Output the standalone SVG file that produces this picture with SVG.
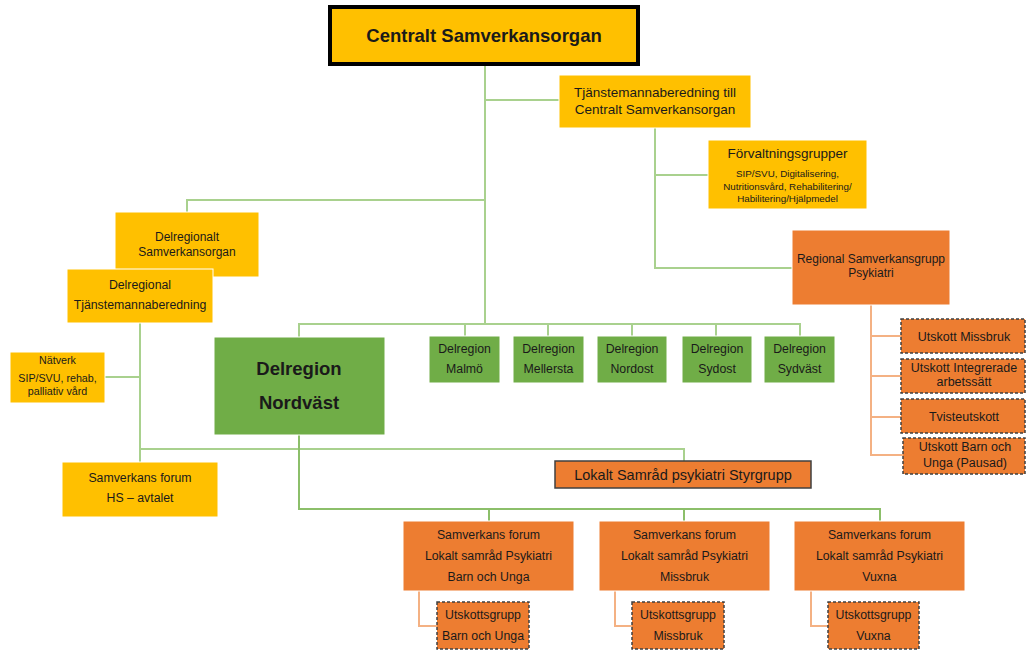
<svg xmlns="http://www.w3.org/2000/svg" width="1026" height="651" viewBox="0 0 1026 651">
<style>
text{font-family:"Liberation Sans",Arial,sans-serif;fill:#1a1a1a;text-anchor:middle}
.y{fill:#FFC000;stroke:#fff;stroke-width:1}
.o{fill:#ED7D31;stroke:#fff;stroke-width:1}
.g{fill:#70AD47;stroke:#fff;stroke-width:1}
.d{fill:#ED7D31;stroke:#404040;stroke-width:1.5;stroke-dasharray:3 2}
.lg{fill:none;stroke:#A9D18E;stroke-width:2}
.mg{fill:none;stroke:#8CBF6A;stroke-width:2}
.lo{fill:none;stroke:#F4B183;stroke-width:2}
</style>
<rect width="1026" height="651" fill="#fff"/>
<g id="connectors">
<polyline class="lg" points="485,66 485,324"/>
<polyline class="lg" points="485,100 559,100"/>
<polyline class="lg" points="655,128 655,268 792,268"/>
<polyline class="lg" points="655,175 708,175"/>
<polyline class="lg" points="485,200 187,200 187,212"/>
<polyline class="lg" points="299,337 299,324 800,324 800,336"/>
<polyline class="lg" points="465,324 465,336"/>
<polyline class="lg" points="548,324 548,336"/>
<polyline class="lg" points="632,324 632,336"/>
<polyline class="lg" points="716,324 716,336"/>
<polyline class="lg" points="140,323 140,462"/>
<polyline class="lg" points="105,377 140,377"/>
<polyline class="lg" points="140,449 684,449 684,461"/>
<polyline class="mg" points="299,435 299,509 880,509 880,521"/>
<polyline class="mg" points="489,509 489,521"/>
<polyline class="mg" points="684,509 684,521"/>
<polyline class="lo" points="871,305 871,455 903,455"/>
<polyline class="lo" points="871,336 901,336"/>
<polyline class="lo" points="871,376 901,376"/>
<polyline class="lo" points="871,417 901,417"/>
<polyline class="lo" points="419,591 419,626 437,626"/>
<polyline class="lo" points="615,591 615,626 632,626"/>
<polyline class="lo" points="811,591 811,626 828,626"/>
</g>
<g id="central">
<rect x="330" y="7" width="308" height="57" fill="#FFC000" stroke="#000" stroke-width="4"/>
<text x="484" y="42" font-size="18.5" font-weight="bold">Centralt Samverkansorgan</text>
</g>
<g id="tjanst-central">
<rect class="y" x="559" y="75" width="192" height="53"/>
<text x="655" y="97" font-size="13.5">Tjänstemannaberedning till</text>
<text x="655" y="114" font-size="13.5">Centralt Samverkansorgan</text>
</g>
<g id="forvaltning">
<rect class="y" x="708" y="140" width="159" height="69"/>
<text x="787.5" y="158" font-size="13.5">Förvaltningsgrupper</text>
<text x="787.5" y="176.5" font-size="9.8">SIP/SVU, Digitalisering,</text>
<text x="787.5" y="189.5" font-size="9.8">Nutritionsvård, Rehabilitering/</text>
<text x="787.5" y="201.5" font-size="9.8">Habilitering/Hjälpmedel</text>
</g>
<g id="regional-psyk">
<rect class="o" x="792" y="230" width="158" height="75"/>
<text x="871" y="263" font-size="12">Regional Samverkansgrupp</text>
<text x="871" y="277" font-size="12">Psykiatri</text>
</g>
<g id="utskott-missbruk">
<rect class="d" x="901" y="319" width="124" height="34"/>
<text x="964" y="340.5" font-size="12.5">Utskott Missbruk</text>
</g>
<g id="utskott-integrerade">
<rect class="d" x="901" y="359" width="124" height="34"/>
<text x="964" y="372" font-size="12.5">Utskott Integrerade</text>
<text x="964" y="386" font-size="12.5">arbetssätt</text>
</g>
<g id="tvisteutskott">
<rect class="d" x="901" y="399" width="124" height="34"/>
<text x="964" y="421" font-size="12.5">Tvisteutskott</text>
</g>
<g id="utskott-barn">
<rect class="d" x="903" y="438" width="122" height="36"/>
<text x="965" y="451" font-size="12.5">Utskott Barn och</text>
<text x="965" y="467" font-size="12.5">Unga (Pausad)</text>
</g>
<g id="delregionalt-samverkansorgan">
<rect class="y" x="115" y="212" width="144" height="65"/>
<text x="187" y="241" font-size="12">Delregionalt</text>
<text x="187" y="256" font-size="12">Samverkansorgan</text>
</g>
<g id="delregional-tjanst">
<rect class="y" x="67" y="269" width="146" height="54"/>
<text x="140" y="289" font-size="12.3">Delregional</text>
<text x="140" y="309" font-size="12.3">Tjänstemannaberedning</text>
</g>
<g id="natverk">
<rect class="y" x="10" y="352" width="95" height="51"/>
<text x="57.5" y="364" font-size="10.7">Nätverk</text>
<text x="57.5" y="382" font-size="10.7">SIP/SVU, rehab,</text>
<text x="57.5" y="395" font-size="10.7">palliativ vård</text>
</g>
<g id="nordvast">
<rect class="g" x="214" y="337" width="171" height="98"/>
<text x="299" y="375" font-size="18.5" font-weight="bold">Delregion</text>
<text x="299" y="409" font-size="18.5" font-weight="bold">Nordväst</text>
</g>
<g id="malmo">
<rect class="g" x="429" y="336" width="71" height="47"/>
<text x="464.5" y="352.5" font-size="12.3">Delregion</text>
<text x="464.5" y="372.5" font-size="12.3">Malmö</text>
</g>
<g id="mellersta">
<rect class="g" x="513" y="336" width="71" height="47"/>
<text x="548.5" y="352.5" font-size="12.3">Delregion</text>
<text x="548.5" y="372.5" font-size="12.3">Mellersta</text>
</g>
<g id="nordost">
<rect class="g" x="597" y="336" width="70" height="47"/>
<text x="632" y="352.5" font-size="12.3">Delregion</text>
<text x="632" y="372.5" font-size="12.3">Nordost</text>
</g>
<g id="sydost">
<rect class="g" x="682" y="336" width="70" height="47"/>
<text x="717" y="352.5" font-size="12.3">Delregion</text>
<text x="717" y="372.5" font-size="12.3">Sydost</text>
</g>
<g id="sydvast">
<rect class="g" x="764" y="336" width="71" height="47"/>
<text x="799.5" y="352.5" font-size="12.3">Delregion</text>
<text x="799.5" y="372.5" font-size="12.3">Sydväst</text>
</g>
<g id="hs-forum">
<rect class="y" x="62" y="462" width="156" height="55"/>
<text x="140" y="482" font-size="12.3">Samverkans forum</text>
<text x="140" y="502" font-size="12.3">HS – avtalet</text>
</g>
<g id="lokalt-styrgrupp">
<rect x="555" y="461" width="256" height="27" fill="#ED7D31" stroke="#404040" stroke-width="1.5"/>
<text x="683" y="479.5" font-size="14.5">Lokalt Samråd psykiatri Styrgrupp</text>
</g>
<g id="forum-barn">
<rect class="o" x="403" y="521" width="171" height="70"/>
<text x="488.5" y="538.5" font-size="12.3">Samverkans forum</text>
<text x="488.5" y="559.5" font-size="12.3">Lokalt samråd Psykiatri</text>
<text x="488.5" y="580.5" font-size="12.3">Barn och Unga</text>
</g>
<g id="forum-missbruk">
<rect class="o" x="599" y="521" width="171" height="70"/>
<text x="684.5" y="538.5" font-size="12.3">Samverkans forum</text>
<text x="684.5" y="559.5" font-size="12.3">Lokalt samråd Psykiatri</text>
<text x="684.5" y="580.5" font-size="12.3">Missbruk</text>
</g>
<g id="forum-vuxna">
<rect class="o" x="794" y="521" width="171" height="70"/>
<text x="879.5" y="538.5" font-size="12.3">Samverkans forum</text>
<text x="879.5" y="559.5" font-size="12.3">Lokalt samråd Psykiatri</text>
<text x="879.5" y="580.5" font-size="12.3">Vuxna</text>
</g>
<g id="utskottsgrupp-barn">
<rect class="d" x="437" y="602" width="92" height="47"/>
<text x="483" y="618.5" font-size="12.3">Utskottsgrupp</text>
<text x="483" y="639.5" font-size="12.3">Barn och Unga</text>
</g>
<g id="utskottsgrupp-missbruk">
<rect class="d" x="632" y="602" width="92" height="47"/>
<text x="678" y="618.5" font-size="12.3">Utskottsgrupp</text>
<text x="678" y="639.5" font-size="12.3">Missbruk</text>
</g>
<g id="utskottsgrupp-vuxna">
<rect class="d" x="828" y="602" width="91" height="47"/>
<text x="873.5" y="618.5" font-size="12.3">Utskottsgrupp</text>
<text x="873.5" y="639.5" font-size="12.3">Vuxna</text>
</g>
</svg>
